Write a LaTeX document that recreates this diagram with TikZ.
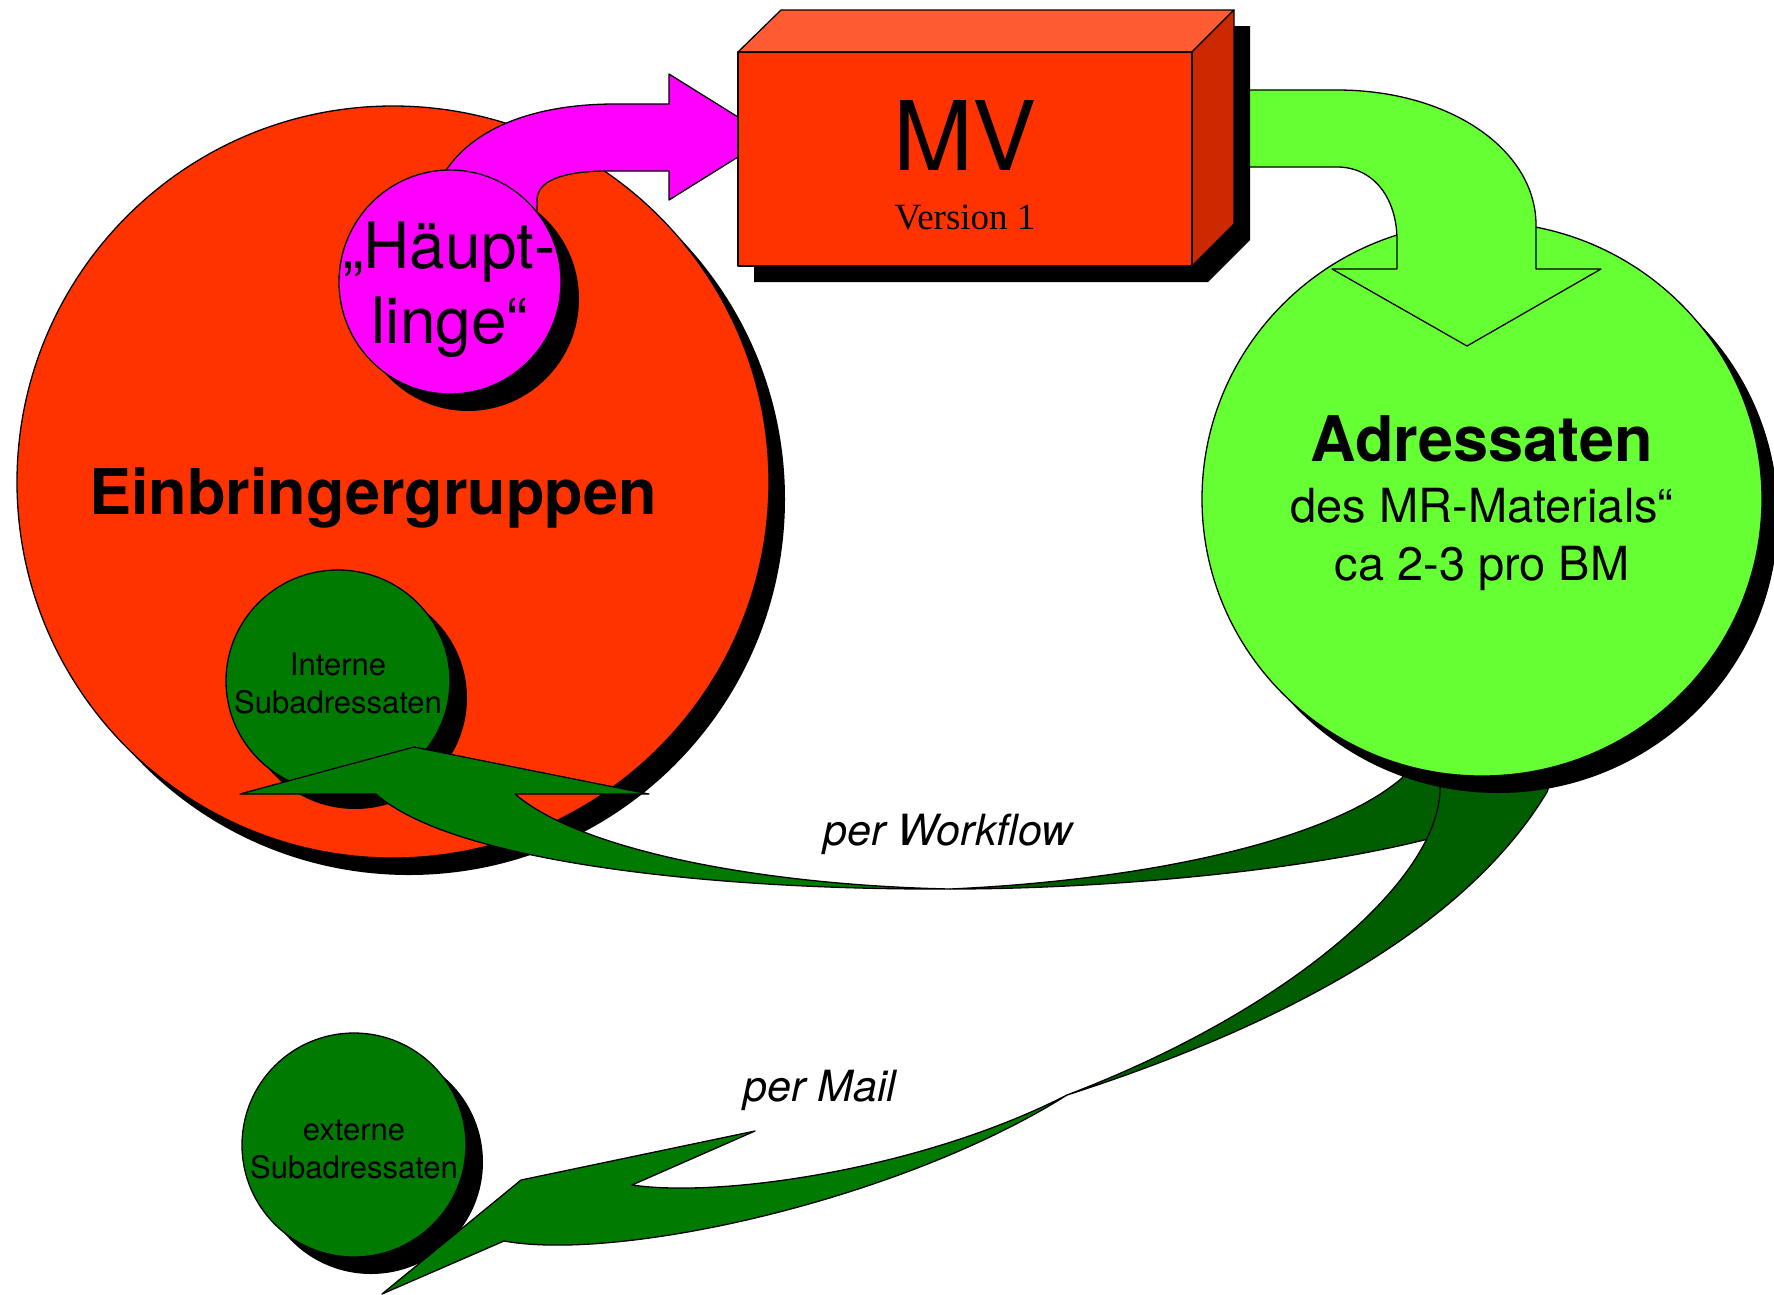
\documentclass[tikz,border=0pt]{standalone}
\usepackage{fontspec}
\setmainfont{TeX Gyre Heros}
\newfontfamily\timesfont{Liberation Serif}
\definecolor{cRed}{HTML}{FF3300}
\definecolor{cRedTop}{HTML}{FF5C33}
\definecolor{cRedSide}{HTML}{CC2900}
\definecolor{cMag}{HTML}{FF00FF}
\definecolor{cLight}{HTML}{66FF33}
\definecolor{cDark}{HTML}{007A00}
\definecolor{cDarker}{HTML}{005E00}
\begin{document}
\begin{tikzpicture}[x=1pt,y=-1pt,
  outl/.style={draw=black,line width=1.3pt,line join=round},
  shd/.style={fill=black},
  lbl/.style={anchor=base,inner sep=0pt,outer sep=0pt}]
\path[use as bounding box] (0,0) rectangle (1774,1294);
\clip (0,0) rectangle (1774,1294);

% --- Einbringergruppen ellipse
\fill[shd] (409,499) ellipse (376 and 376);
\filldraw[outl,fill=cRed] (393,482) ellipse (376 and 376);

% --- Interne Subadressaten
\fill[shd] (355,698) ellipse (112 and 111);
\filldraw[outl,fill=cDark] (338,681) ellipse (112 and 111);

% --- per Workflow arrow (bright part with head)
\filldraw[outl,fill=cDark] (950,889) .. controls (700,890) and (450,860) .. (376,794)
  -- (240,794) -- (414,747) -- (649,794) -- (515,794)
  .. controls (580,850) and (760,885) .. (950,889) -- cycle;

% --- magenta arrow to MV
\filldraw[outl,fill=cMag] (445,172) .. controls (475,125) and (540,104) .. (615,104)
  -- (669,104) -- (669,74) -- (770,137) -- (669,200) -- (669,171) -- (608,171)
  .. controls (560,171) and (537,182) .. (537,200) -- (537,228) -- (445,228) -- cycle;

% --- Haeuptlinge ellipse
\fill[shd] (468,299) ellipse (111 and 112);
\filldraw[outl,fill=cMag] (450,282) ellipse (111 and 112);

% --- per Workflow arrow (dark part)
\filldraw[outl,fill=cDarker] (1420,745) -- (1402,778)
  .. controls (1330,840) and (1150,880) .. (950,889)
  .. controls (1100,889) and (1300,872) .. (1432,838)
  -- (1460,820) -- (1460,745) -- cycle;

% --- per Mail arrow (dark part)
\filldraw[outl,fill=cDarker] (1442,740) -- (1440,790)
  .. controls (1438,880) and (1290,1010) .. (1067,1095)
  .. controls (1300,1020) and (1470,920) .. (1547,792) -- (1565,740) -- cycle;

% --- Adressaten ellipse
\fill[shd] (1498,516) ellipse (280 and 277);
\filldraw[outl,fill=cLight] (1482,499) ellipse (280 and 277);

% --- green arrow from MV to Adressaten
\filldraw[outl,fill=cLight] (1240,90) -- (1337,90)
  .. controls (1450,90) and (1536,150) .. (1536,225) -- (1536,269) -- (1601,269)
  -- (1467,346) -- (1332,269) -- (1397,269) -- (1397,240)
  .. controls (1397,200) and (1375,167) .. (1337,167) -- (1240,167) -- cycle;

% --- MV box
\fill[shd] (754,68) -- (797,26) -- (1250,26) -- (1250,240) -- (1208,282) -- (754,282) -- cycle;
\filldraw[outl,fill=cRedTop] (738,52) -- (781,10) -- (1234,10) -- (1192,52) -- cycle;
\filldraw[outl,fill=cRedSide] (1192,52) -- (1234,10) -- (1234,224) -- (1192,266) -- cycle;
\filldraw[outl,fill=cRed] (738,52) rectangle (1192,266);

% --- externe Subadressaten
\fill[shd] (371,1162) ellipse (112 and 112);
\filldraw[outl,fill=cDark] (354,1145) ellipse (112 and 112);

% --- per Mail arrow (bright part with head)
\filldraw[outl,fill=cDark] (1067,1095) .. controls (920,1170) and (720,1198) .. (632,1185)
  -- (755,1131) -- (521,1180) -- (382,1294) -- (504,1241)
  .. controls (620,1262) and (900,1200) .. (1067,1095) -- cycle;

% --- texts
\node[lbl,font={\fontsize{64}{64}\selectfont}] (hA) at (449,268) {„Häupt-};
\node[lbl,font={\fontsize{64}{64}\selectfont}] (hB) at (450,343) {linge“};
\node[lbl,font={\fontsize{63}{63}\selectfont\bfseries}] (einb) at (373,514) {Einbringergruppen};
\node[lbl,font={\fontsize{31}{31}\selectfont}] (intA) at (338,675) {Interne};
\node[lbl,font={\fontsize{31}{31}\selectfont}] (intB) at (338,713) {Subadressaten};
\node[lbl,font={\fontsize{31}{31}\selectfont}] (extA) at (354,1140) {externe};
\node[lbl,font={\fontsize{31}{31}\selectfont}] (extB) at (354,1178) {Subadressaten};
\node[lbl,font={\fontsize{96}{96}\selectfont}] (mv) at (965,170) {MV};
\node[lbl,font={\fontsize{37}{37}\selectfont\timesfont}] (ver) at (965,229) {Version 1};
\node[lbl,font={\fontsize{63}{63}\selectfont\bfseries}] (adrA) at (1482,461) {Adressaten};
\node[lbl,font={\fontsize{47}{47}\selectfont}] (adrB) at (1482,522) {des MR-Materials“};
\node[lbl,font={\fontsize{47}{47}\selectfont}] (adrC) at (1482,580) {ca 2-3 pro BM};
\node[lbl,font={\fontsize{43}{43}\selectfont\itshape}] (wf) at (948,845) {per Workflow};
\node[lbl,font={\fontsize{43}{43}\selectfont\itshape}] (mail) at (820,1101) {per Mail};
\end{tikzpicture}
\end{document}
